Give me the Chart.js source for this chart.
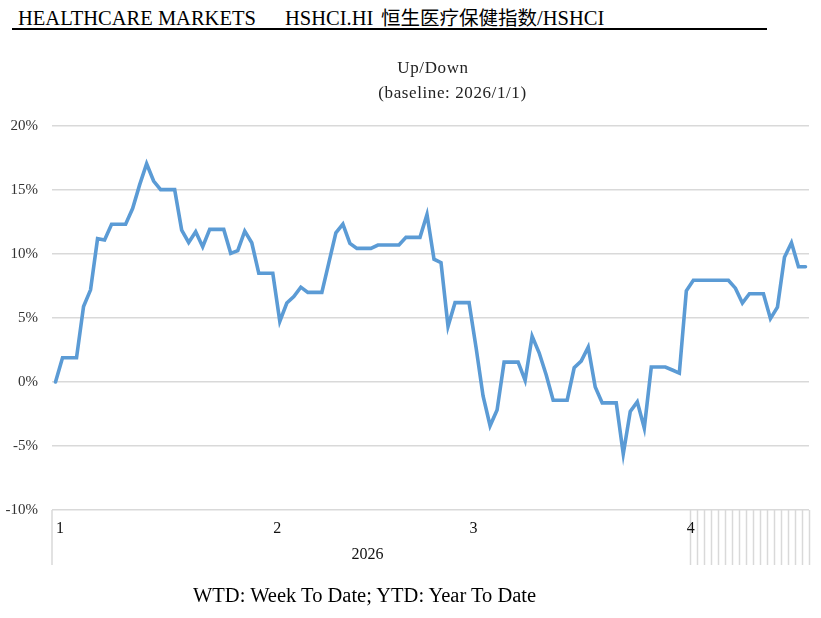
<!DOCTYPE html>
<html>
<head>
<meta charset="utf-8">
<script src="https://cdn.jsdelivr.net/npm/chart.js@4.4.1/dist/chart.umd.min.js"></script>
<style>
  html, body { margin: 0; padding: 0; background: #fff; }
  body { width: 821px; height: 618px; position: relative; overflow: hidden; font-family: "Liberation Serif", "Noto Sans CJK SC", serif; color: #000; }
  .txt { position: absolute; white-space: nowrap; line-height: 22px; }
  #head span { position: absolute; top: 6px; font-size: 20.5px; line-height: 24px; white-space: nowrap; }
  #head span.cjk { font-family: "Noto Sans CJK SC", sans-serif; font-size: 19.5px; top: 5px; }
  #rule { position: absolute; left: 12px; top: 28px; width: 755px; height: 2px; background: #000; }
  #wrap { position: absolute; left: 0; top: 0; }
  .ttl { font-size: 17px; letter-spacing: 0.6px; color: #222; }
</style>
</head>
<body>
<div id="head">
  <span style="left:18px">HEALTHCARE MARKETS</span>
  <span style="left:285px">HSHCI.HI</span>
  <span class="cjk" style="left:381px">恒生医疗保健指数</span>
  <span style="left:537px">/HSHCI</span>
</div>
<div id="rule"></div>
<div id="wrap"><canvas id="chart" width="821" height="618"></canvas></div>
<div class="txt ttl" style="left:0;width:866px;text-align:center;top:57px">Up/Down</div>
<div class="txt ttl" style="left:0;width:905px;text-align:center;top:82px">(baseline: 2026/1/1)</div>
<div class="txt" style="left:193px;top:584px;font-size:20.5px">WTD: Week To Date; YTD: Year To Date</div>
<script>
// days in each month shown (2026, Jan 1 - Apr 18)
const months = ["1", "2", "3", "4"];
const monthDays = [31, 28, 31, 18];
const yearLabel = "2026";
const yTicks = [-10, -5, 0, 5, 10, 15, 20];

// % change vs 2026/1/1, one value per calendar day
const janValues = [0, 1.89, 1.89, 1.89, 5.9, 7.2, 11.2, 11.1, 12.33, 12.33, 12.33, 13.55, 15.4, 17.05, 15.7, 15.03,
  15.03, 15.03, 11.87, 10.9, 11.74, 10.57, 11.92, 11.92, 11.92, 10.05, 10.26, 11.79, 10.88, 8.5, 8.5];
const febValues = [8.5, 4.74, 6.17, 6.68, 7.41, 7.0, 7.0, 7.0, 9.33, 11.66, 12.33, 10.83, 10.44, 10.44, 10.44, 10.7,
  10.7, 10.7, 10.7, 11.3, 11.3, 11.3, 13.08, 9.59, 9.33, 4.35, 6.2, 6.2];
const marValues = [6.2, 2.7, -1.09, -3.42, -2.18, 1.55, 1.55, 1.55, 0.13, 3.57, 2.28, 0.57, -1.42, -1.42, -1.42, 1.11,
  1.63, 2.72, -0.39, -1.63, -1.63, -1.63, -5.62, -2.31, -1.55, -3.6, 1.17, 1.17, 1.17, 0.94, 0.7];
const aprValues = [7.12, 7.95, 7.95, 7.95, 7.95, 7.95, 7.95, 7.33, 6.17, 6.9, 6.9, 6.9, 4.95, 5.85, 9.74, 10.88, 9.0, 9.0];

const labels = [];
const monthStart = [];
monthDays.forEach((n, m) => {
  monthStart.push(labels.length);
  for (let d = 1; d <= n; d++) labels.push(yearLabel + "/" + months[m] + "/" + d);
});
const values = [...janValues, ...febValues, ...marValues, ...aprValues];

const gridColor = "#d9d9d9";

const categoryBox = {
  id: "categoryBox",
  afterDraw(chart) {
    const ctx = chart.ctx;
    const x = chart.scales.x;
    const area = chart.chartArea;
    const half = (x.getPixelForValue(1) - x.getPixelForValue(0)) / 2;
    const edge = i => x.getPixelForValue(i) - half;
    const top = area.bottom, low = top + 55;
    ctx.save();
    ctx.strokeStyle = gridColor;
    ctx.lineWidth = 1.5;
    ctx.beginPath();
    ctx.moveTo(area.left, top);
    ctx.lineTo(area.left, low);
    // last month is split per day
    const last = monthStart[monthStart.length - 1];
    for (let i = last + 1; i <= labels.length; i++) {
      const px = Math.round(edge(i)) + 0.5;
      ctx.moveTo(px, top);
      ctx.lineTo(px, low);
    }
    ctx.stroke();
    ctx.fillStyle = "#111";
    ctx.font = "16px 'Liberation Serif'";
    ctx.textBaseline = "alphabetic";
    ctx.textAlign = "left";
    months.forEach((m, k) => ctx.fillText(m, edge(monthStart[k]) + 4, top + 23));
    ctx.textAlign = "center";
    ctx.fillText(yearLabel, (area.left + edge(last)) / 2, top + 49);
    ctx.restore();
  }
};

new Chart(document.getElementById("chart"), {
  type: "line",
  data: {
    labels: labels,
    datasets: [{
      data: values,
      borderColor: "#5b9bd5",
      borderWidth: 3.6,
      pointRadius: 0,
      tension: 0,
      borderCapStyle: "round"
    }]
  },
  options: {
    responsive: false,
    animation: false,
    layout: { padding: { left: 0, top: 126, right: 12, bottom: 108 } },
    plugins: { legend: { display: false }, tooltip: { enabled: false } },
    scales: {
      x: { type: "category", display: false, offset: true },
      y: {
        min: -10,
        max: 20,
        afterBuildTicks(scale) { scale.ticks = yTicks.map(v => ({ value: v })); },
        afterFit(scale) { scale.width = 52; },
        border: { display: false },
        grid: { color: gridColor, lineWidth: 1.5, drawTicks: false },
        ticks: {
          padding: 14,
          color: "#333",
          font: { family: "Liberation Serif", size: 15 },
          callback: v => v + "%"
        }
      }
    }
  },
  plugins: [categoryBox]
});
</script>
</body>
</html>
